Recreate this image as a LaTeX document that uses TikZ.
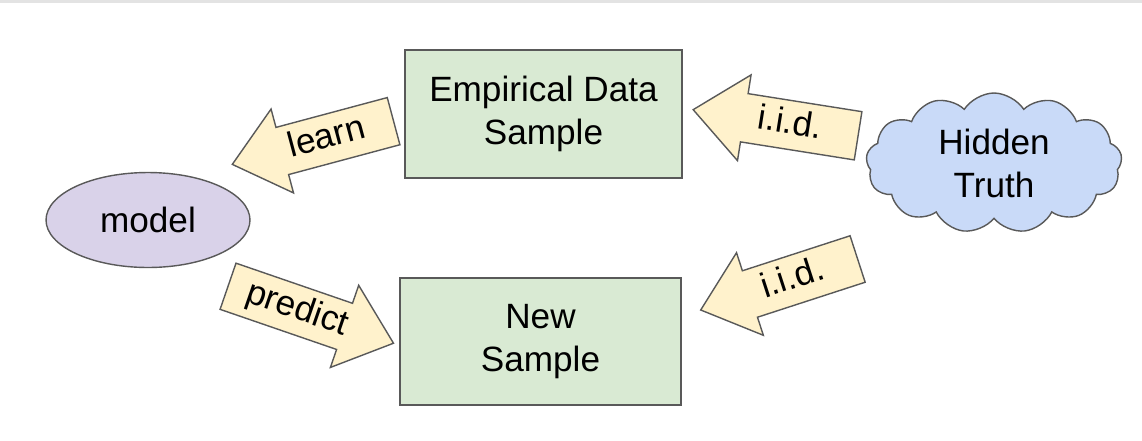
\documentclass[tikz,border=0pt]{standalone}
\usepackage{fontspec}
\setmainfont{Liberation Sans}
\usetikzlibrary{shapes.geometric,shapes.arrows,shapes.symbols}

\definecolor{boxgreen}{HTML}{D9EAD3}
\definecolor{modelpurple}{HTML}{D9D2E9}
\definecolor{cloudblue}{HTML}{C9DAF8}
\definecolor{arrowyellow}{HTML}{FFF2CC}
\definecolor{linegray}{HTML}{595959}
\definecolor{topgray}{HTML}{E3E3E3}

\begin{document}
\begin{tikzpicture}[x=0.02cm,y=-0.02cm,
  font=\fontsize{20}{24.5}\selectfont,
  outline/.style={draw=linegray,line width=0.8pt},
  samplebox/.style={outline,rectangle,fill=boxgreen,align=center,inner sep=0pt},
  fatarrow/.style={outline,single arrow,fill=arrowyellow,
    single arrow head extend=0.38cm,single arrow tip angle=80,
    inner xsep=2pt,inner ysep=4.5pt,text height=14pt,text depth=4pt}]

  % Fix the page size
  \useasboundingbox (0,0) rectangle (1142,440);

  % Thin gray rule along the top edge
  \fill[topgray] (0,0) rectangle (1142,3);

  % Sample boxes
  \node[samplebox,minimum width=5.54cm,minimum height=2.56cm] (emp) at (543.5,114) {Empirical Data\\Sample};
  \node[samplebox,minimum width=5.62cm,minimum height=2.54cm] (new) at (540.5,341.5) {New\\Sample};

  % The model
  \node[outline,ellipse,fill=modelpurple,inner sep=0pt,
    minimum width=4.08cm,minimum height=1.9cm] (model) at (148,220) {model};

  % The hidden truth
  \node[outline,cloud,fill=cloudblue,cloud puffs=13,cloud puff arc=115,aspect=1.8,
    inner sep=0pt,minimum width=5.12cm,minimum height=2.8cm,align=center] (truth) at (994,163) {Hidden\\Truth};

  % Block arrows between them
  \node[fatarrow,shape border rotate=180,rotate=15,minimum height=3.34cm] (learn) at (327,139) {learn};
  \node[fatarrow,rotate=-19,minimum height=3.5cm] (predict) at (297,310) {predict};
  \node[fatarrow,shape border rotate=180,rotate=-9,minimum height=3.34cm] (iidtop) at (790,125) {i.i.d.};
  \node[fatarrow,shape border rotate=180,rotate=18,minimum height=3.3cm] (iidnew) at (793,280) {i.i.d.};

\end{tikzpicture}
\end{document}
